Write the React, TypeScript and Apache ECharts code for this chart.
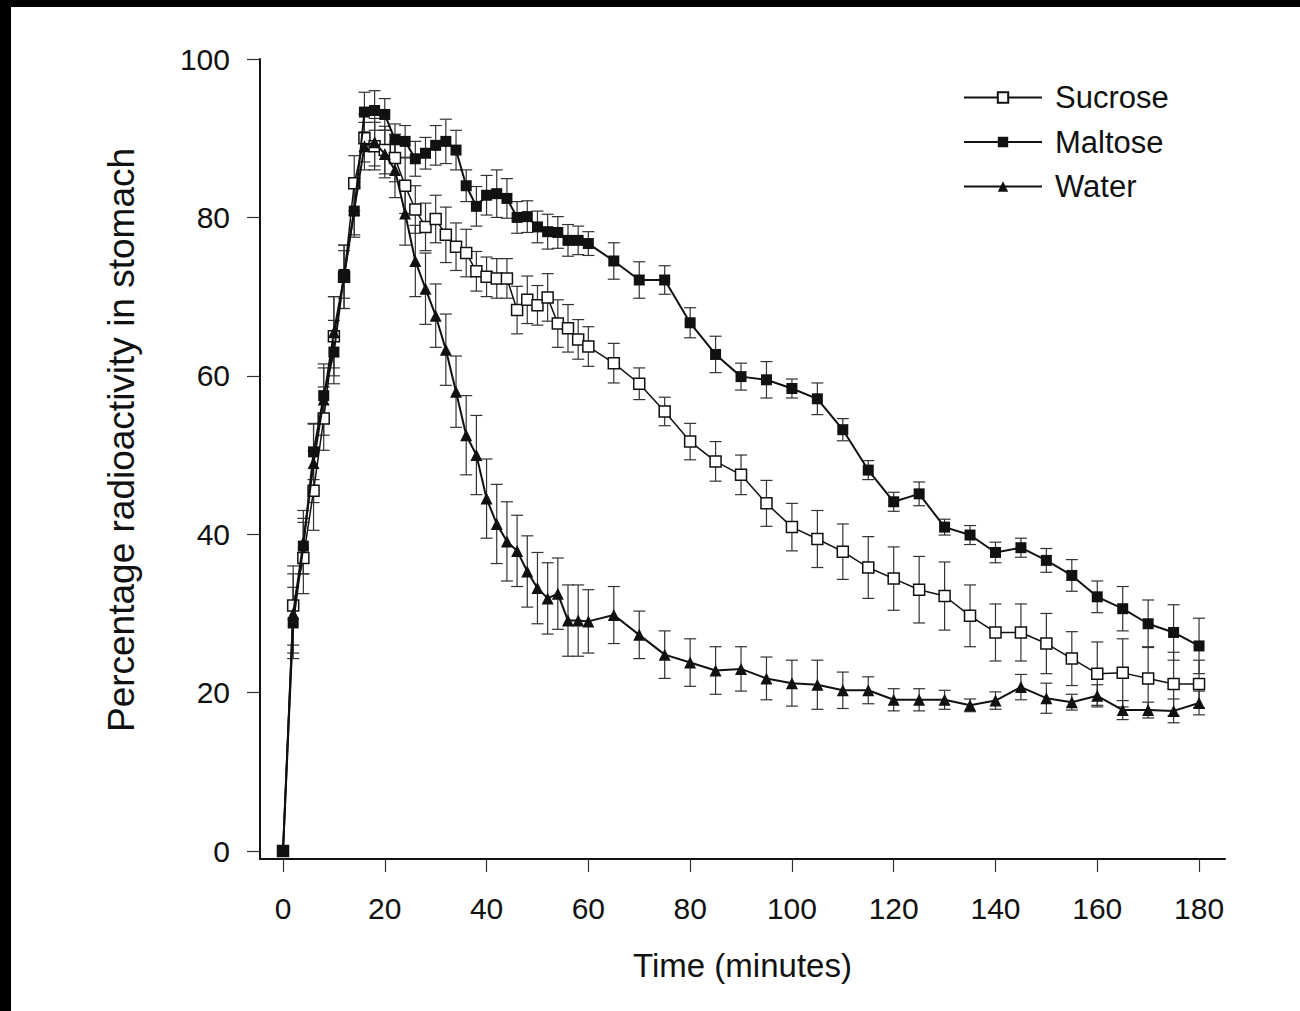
import React, { useEffect, useRef } from "react";
import * as echarts from "echarts";

// Time points (minutes)
const times = [
  0, 2, 4, 6, 8, 10, 12, 14, 16, 18, 20, 22, 24, 26, 28, 30, 32, 34, 36, 38, 40,
  42, 44, 46, 48, 50, 52, 54, 56, 58, 60, 65, 70, 75, 80, 85, 90, 95, 100, 105,
  110, 115, 120, 125, 130, 135, 140, 145, 150, 155, 160, 165, 170, 175, 180,
];

// Percentage radioactivity in stomach (mean)
const sucrose = [
  0, 31, 37, 45.5, 54.6, 65, 72.5, 84.3,
  90, 89, 88.5, 87.5, 84, 81, 78.8, 79.8, 77.8, 76.3, 75.5, 73.2, 72.5, 72.3, 72.3,
  68.3, 69.6, 68.9, 69.9, 66.6, 66, 64.6, 63.7,
  61.6, 59, 55.5, 51.7, 49.2, 47.5, 43.9, 40.9, 39.4, 37.8, 35.8, 34.4, 33, 32.2,
  29.7, 27.6, 27.6, 26.2, 24.3, 22.4, 22.5, 21.8, 21.1, 21.1,
];
const maltose = [
  0, 28.8, 38.5, 50.4, 57.5, 63, 72.8, 80.8,
  93.3, 93.5, 93.0, 89.8, 89.6, 87.4, 88.1, 89.1, 89.6, 88.5, 84, 81.4, 82.8, 83, 82.4,
  80, 80.1, 78.8, 78.2, 78.1, 77.1, 77.1, 76.7,
  74.5, 72.1, 72.1, 66.7, 62.7, 59.9, 59.5, 58.4, 57.1, 53.2, 48.1, 44.1, 45.1, 40.9,
  39.9, 37.7, 38.3, 36.7, 34.8, 32.1, 30.6, 28.7, 27.6, 25.9,
];
const water = [
  0, 30, 39, 49, 57, 65.5, 72.5, 81,
  89, 89.5, 88, 86, 80.5, 74.5, 71, 67.6, 63.3, 58, 52.5, 50, 44.5, 41.3, 39.1,
  37.9, 35.3, 33.2, 31.9, 32.5, 29.1, 29.1, 29,
  29.8, 27.3, 24.8, 23.8, 22.8, 23, 21.8, 21.2, 21, 20.3, 20.3, 19.1, 19.1, 19.1,
  18.4, 19, 20.7, 19.3, 18.8, 19.6, 17.8, 17.8, 17.7, 18.7,
];

// Error bar half-lengths (SEM)
const sucroseErr = [
  0, 5, 4.5, 5, 4, 5, 4, 3.5,
  3, 3, 3, 3, 3.5, 3, 3, 3, 3.5, 3, 3, 2.5, 2.5, 2.5, 2.5,
  3, 3, 2.5, 3, 3, 3, 2.5, 2.5,
  2.5, 2, 1.8, 2.3, 2.5, 2.5, 2.9, 3, 3.6, 3.5, 3.9, 4, 4.2, 4.3,
  3.9, 3.6, 3.6, 3.8, 3.4, 4, 4.3, 4, 4, 3,
];
const maltoseErr = [
  0, 4.5, 3.5, 3.5, 3.5, 4, 3, 3,
  2.5, 2.5, 2, 2, 2, 2.2, 2, 2.5, 2.8, 2.5, 2, 2.5, 2.5, 3, 2.5,
  2, 2, 2, 2.2, 2, 2, 1.8, 1.5,
  2.3, 2.3, 1.8, 1.9, 2.3, 1.7, 2.3, 1.2, 2, 1.4, 1.2, 1.2, 1.5, 1,
  1.2, 1.3, 1.2, 1.5, 2, 2, 2.8, 3, 3.5, 3.5,
];
const waterErr = [
  0, 5, 4, 5, 4.5, 4.5, 4, 3.5,
  3, 3, 3, 3.5, 4, 4.5, 4.5, 4, 4.5, 4.5, 5, 5, 5, 5, 5,
  4.5, 4.5, 4.5, 4.5, 4.5, 4.5, 4.5, 4,
  3.6, 3, 3, 3, 3, 2.8, 2.7, 2.9, 3.1, 2.3, 1.7, 1.4, 1.4, 1.2,
  0.8, 1.1, 1.6, 1.9, 1, 1.4, 1.2, 1, 1.5, 1.5,
];

const xTicks = [0, 20, 40, 60, 80, 100, 120, 140, 160, 180];
const yTicks = [0, 20, 40, 60, 80, 100];
const legendNames = ["Sucrose", "Maltose", "Water"];

const FONT = "'Liberation Sans', Arial, Helvetica, sans-serif";
const INK = "#111";

function errSeries(name: string, vals: number[], errs: number[]) {
  const data: number[][] = [];
  times.forEach((t, i) => {
    if (errs[i] > 0) data.push([t, vals[i] - errs[i], vals[i] + errs[i]]);
  });
  return {
    type: "custom",
    name,
    data,
    silent: true,
    z: 1,
    encode: { x: 0, y: [1, 2] },
    renderItem: (params: any, api: any) => {
      const x = api.value(0);
      const a = api.coord([x, api.value(1)]);
      const b = api.coord([x, api.value(2)]);
      const w = 6;
      const style = { stroke: "#333", lineWidth: 1.2 };
      return {
        type: "group",
        children: [
          { type: "line", shape: { x1: a[0], y1: a[1], x2: b[0], y2: b[1] }, style },
          { type: "line", shape: { x1: a[0] - w, y1: a[1], x2: a[0] + w, y2: a[1] }, style },
          { type: "line", shape: { x1: b[0] - w, y1: b[1], x2: b[0] + w, y2: b[1] }, style },
        ],
      };
    },
  };
}

export default function App() {
  const ref = useRef<HTMLDivElement>(null);
  useEffect(() => {
    if (!ref.current) return;
    const chart = echarts.init(ref.current, undefined, { renderer: "svg" });
    const pairs = (vals: number[]) => times.map((t, i) => [t, vals[i]]);
    chart.setOption({
      animation: false,
      backgroundColor: "#ffffff",
      textStyle: { fontFamily: FONT, color: INK },
      grid: { left: 260, top: 59, width: 965, height: 800, containLabel: false },
      legend: {
        orient: "vertical",
        left: 958,
        top: 77,
        itemWidth: 78,
        itemHeight: 13,
        itemGap: 13.5,
        data: legendNames,
        selectedMode: false,
        textStyle: { fontSize: 31, color: INK, fontFamily: FONT, padding: [0, 0, 0, 8] },
      },
      xAxis: {
        type: "value",
        min: -4.52,
        max: 185.1,
        splitLine: { show: false },
        axisLine: { show: true, onZero: false, lineStyle: { color: INK, width: 2 } },
        axisTick: { show: true, length: 13, customValues: xTicks, lineStyle: { color: "#333", width: 1.2 } },
        axisLabel: { customValues: xTicks, fontSize: 30, color: INK, margin: 34, fontFamily: FONT },
        name: "Time (minutes)",
        nameLocation: "middle",
        nameGap: 90,
        nameTextStyle: { fontSize: 33, color: INK, fontFamily: FONT },
      },
      yAxis: {
        type: "value",
        min: -1,
        max: 100,
        splitLine: { show: false },
        axisLine: { show: true, onZero: false, lineStyle: { color: INK, width: 2 } },
        axisTick: { show: true, length: 13, customValues: yTicks, lineStyle: { color: "#333", width: 1.2 } },
        axisLabel: { customValues: yTicks, fontSize: 30, color: INK, margin: 30, fontFamily: FONT },
      },
      graphic: [
        { type: "rect", shape: { x: 0, y: 0, width: 1300, height: 7 }, style: { fill: "#000" }, silent: true },
        { type: "rect", shape: { x: 0, y: 0, width: 11, height: 1011 }, style: { fill: "#000" }, silent: true },
        {
          type: "text",
          x: 121,
          y: 440,
          rotation: Math.PI / 2,
          style: {
            text: "Percentage radioactivity in stomach",
            fontSize: 37,
            fontFamily: FONT,
            fill: INK,
            textAlign: "center",
            textVerticalAlign: "middle",
          },
        },
      ],
      series: [
        errSeries("Sucrose SEM", sucrose, sucroseErr),
        errSeries("Water SEM", water, waterErr),
        errSeries("Maltose SEM", maltose, maltoseErr),
        {
          name: "Sucrose",
          type: "line",
          data: pairs(sucrose),
          symbol: "rect",
          symbolSize: 11,
          z: 3,
          lineStyle: { color: INK, width: 1.5 },
          itemStyle: { color: "#fff", borderColor: INK, borderWidth: 1.5 },
        },
        {
          name: "Water",
          type: "line",
          data: pairs(water),
          symbol: "triangle",
          symbolSize: 12,
          z: 4,
          lineStyle: { color: INK, width: 2 },
          itemStyle: { color: INK, borderColor: INK, borderWidth: 0 },
        },
        {
          name: "Maltose",
          type: "line",
          data: pairs(maltose),
          symbol: "rect",
          symbolSize: 11,
          z: 5,
          lineStyle: { color: INK, width: 2 },
          itemStyle: { color: INK, borderColor: INK, borderWidth: 0 },
        },
      ],
    });
    return () => chart.dispose();
  }, []);
  return (
    <div
      ref={ref}
      style={{ position: "absolute", left: 0, top: 0, width: 1300, height: 1011 }}
    />
  );
}
